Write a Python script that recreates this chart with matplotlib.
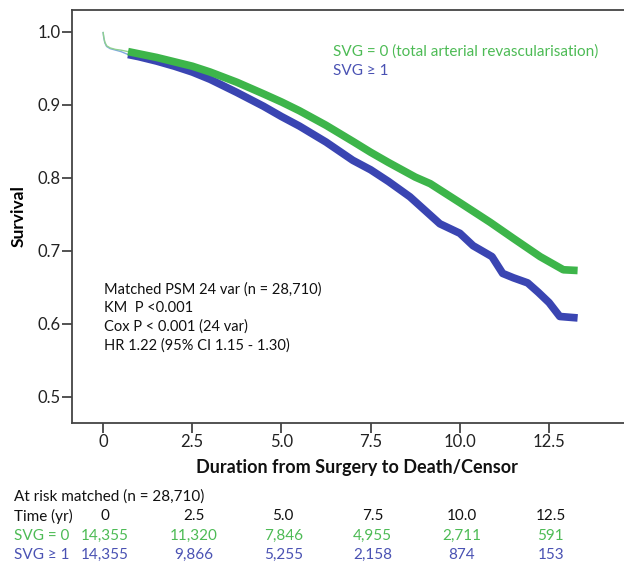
import matplotlib
matplotlib.use("Agg")
import matplotlib.pyplot as plt
import matplotlib.transforms as mtransforms

# ---- data ----
t_green = [0, 0.02, 0.05, 0.1, 0.2, 0.35, 0.5, 0.7, 1.0, 1.5, 2.0, 2.5, 3.0, 3.75, 4.5, 5.0,
           5.5, 6.25, 7.0, 7.5, 8.0, 8.75, 9.17, 10.0, 10.85, 11.5, 12.25, 12.9, 13.3]
s_green = [1.0, 0.993, 0.986, 0.981, 0.978, 0.976, 0.975, 0.973, 0.970, 0.965, 0.959, 0.953,
           0.945, 0.931, 0.915, 0.904, 0.892, 0.872, 0.850, 0.835, 0.821, 0.801, 0.792, 0.766,
           0.739, 0.717, 0.692, 0.674, 0.673]
t_blue = [0, 0.02, 0.05, 0.1, 0.2, 0.35, 0.5, 0.7, 1.0, 1.5, 2.0, 2.5, 3.0, 3.75, 4.5, 5.0,
          5.5, 6.25, 7.0, 7.5, 8.0, 8.6, 9.44, 10.0, 10.37, 10.9, 11.2, 11.5, 11.9, 12.2,
          12.5, 12.8, 13.3]
s_blue = [1.0, 0.992, 0.985, 0.980, 0.977, 0.975, 0.973, 0.969, 0.966, 0.960, 0.953, 0.945,
          0.935, 0.917, 0.898, 0.884, 0.871, 0.849, 0.824, 0.811, 0.795, 0.774, 0.737, 0.724,
          0.707, 0.692, 0.669, 0.663, 0.656, 0.643, 0.629, 0.610, 0.608]
thick_start = 0.7

risk_times = [0, 2.5, 5.0, 7.5, 10.0, 12.5]
risk_time_labels = ["0", "2.5", "5.0", "7.5", "10.0", "12.5"]
risk_svg0 = ["14,355", "11,320", "7,846", "4,955", "2,711", "591"]
risk_svg1 = ["14,355", "9,866", "5,255", "2,158", "874", "153"]

x_ticks = [0, 2.5, 5.0, 7.5, 10.0, 12.5]
x_tick_labels = ["0", "2.5", "5.0", "7.5", "10.0", "12.5"]
y_ticks = [0.5, 0.6, 0.7, 0.8, 0.9, 1.0]
y_tick_labels = ["0.5", "0.6", "0.7", "0.8", "0.9", "1.0"]

stats_lines = ["Matched PSM 24 var (n = 28,710)", "KM  P <0.001",
               "Cox P < 0.001 (24 var)", "HR 1.22 (95% CI 1.15 - 1.30)"]
legend_labels = ["SVG = 0 (total arterial revascularisation)", "SVG \u2265 1"]

GREEN = "#3db54a"
BLUE = "#3a45b2"
GREEN_T = "#4dbb55"
BLUE_T = "#4a52b3"
FONT = ["Lato", "DejaVu Sans"]

plt.rcParams["font.family"] = FONT

fig = plt.figure(figsize=(6.24, 5.65), dpi=100)
W, H = 624, 565
ax = fig.add_axes([72 / W, 1 - 423 / H, 1 - 72 / W + 0.01, (423 - 10) / H])
ax.set_xlim(-0.87, 14.6 + 0.01 * W / 35.68)
ax.set_ylim(0.464, 1.030)

def split(t, s):
    thin_t, thin_s, thick_t, thick_s = [], [], [], []
    for a, b in zip(t, s):
        if a <= thick_start:
            thin_t.append(a); thin_s.append(b)
        if a >= thick_start:
            thick_t.append(a); thick_s.append(b)
    return thin_t, thin_s, thick_t, thick_s

bt, bs, Bt, Bs = split(t_blue, s_blue)
gt, gs, Gt, Gs = split(t_green, s_green)
ax.plot(bt, bs, color="#7fa8e0", lw=1.0, solid_capstyle="butt")
ax.plot(gt, gs, color="#8fd08f", lw=1.0, solid_capstyle="butt")
ax.plot(Bt, Bs, color=BLUE, lw=5.5, solid_capstyle="butt", solid_joinstyle="round")
ax.plot(Gt, Gs, color=GREEN, lw=5.5, solid_capstyle="butt", solid_joinstyle="round")

for sp in ["left", "bottom", "top"]:
    ax.spines[sp].set_color("#444444")
    ax.spines[sp].set_linewidth(1.3)
ax.spines["right"].set_visible(False)

ax.set_xticks(x_ticks)
ax.set_xticklabels(x_tick_labels)
ax.set_yticks(y_ticks)
ax.set_yticklabels(y_tick_labels)
ax.tick_params(axis="both", direction="out", length=7, width=1.3, color="#444444",
               labelsize=12, labelcolor="#222222", pad=1)

ax.set_ylabel("Survival", fontsize=12.5, fontweight="bold", labelpad=8)
fig.text(357 / W, 1 - 467 / H, "Duration from Surgery to Death/Censor", fontsize=13,
         fontweight="bold", ha="center", va="center", color="#111111")

# stats block
for i, line in enumerate(stats_lines):
    fig.text(104 / W, 1 - (290 + i * 18.5) / H, line, fontsize=10.5, color="#111111",
             va="center", ha="left")

# legend
fig.text(333 / W, 1 - 52 / H, legend_labels[0], fontsize=11, color=GREEN_T, va="center")
fig.text(333 / W, 1 - 71 / H, legend_labels[1], fontsize=11, color=BLUE_T, va="center")

# risk table
trans = mtransforms.blended_transform_factory(ax.transData, fig.transFigure)
fig.text(14 / W, 1 - 497 / H, "At risk matched (n = 28,710)", fontsize=11, va="center",
         color="#111111")
rows = [("Time (yr)", risk_time_labels, "#111111", 516),
        ("SVG = 0", risk_svg0, GREEN_T, 536),
        ("SVG \u2265 1", risk_svg1, BLUE_T, 555)]
for label, vals, col, ypix in rows:
    fig.text(14 / W, 1 - ypix / H, label, fontsize=11, va="center", color=col)
    for x, v in zip(risk_times, vals):
        ax.text(x + 0.05, 1 - ypix / H, v, transform=trans, fontsize=11, va="center",
                ha="center", color=col, clip_on=False)

fig.savefig("out.png", dpi=100)
